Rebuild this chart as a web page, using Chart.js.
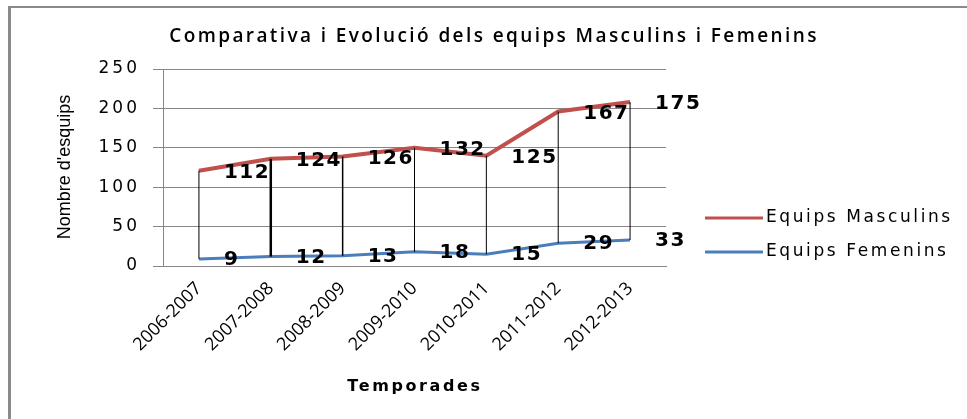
<!DOCTYPE html>
<html>
<head>
<meta charset="utf-8">
<script src="https://cdn.jsdelivr.net/npm/chart.js@4/dist/chart.umd.min.js"></script>
<style>
  html, body { margin: 0; padding: 0; background: #fff; }
  #wrap { position: relative; width: 967px; height: 419px; }
  #frame { position: absolute; left: 8px; top: 6px; right: 0; bottom: 0;
           border-left: 3px solid #8a8a8a; border-top: 2px solid #8a8a8a; pointer-events: none; }
</style>
</head>
<body>
<div id="wrap">
  <canvas id="chart" width="967" height="419"></canvas>
  <div id="frame"></div>
</div>
<script>
// Seasons and number of teams
var temporades = ['2006-2007', '2007-2008', '2008-2009', '2009-2010', '2010-2011', '2011-2012', '2012-2013'];
var masculins = [112, 124, 126, 132, 125, 167, 175];
var femenins = [9, 12, 13, 18, 15, 29, 33];
var yTicks = [0, 50, 100, 150, 200, 250];

var redLine = '#C0504D';
var blueLine = '#4A7EBB';
var dropWidths = [1, 2.5, 1.5, 1, 1, 1, 1];

// high-low lines, value labels, titles and legend
var extras = {
    id: 'extras',
    afterLayout: function(chart) {
        // wide spaced tick numbers on the value axis
        var sc = chart.scales.y;
        if (sc._spaced) return;
        var orig = sc.drawLabels;
        sc.drawLabels = function(area) {
            var c = this.ctx;
            c.save();
            c.letterSpacing = '3px';
            orig.call(this, area);
            c.restore();
        };
        sc._spaced = true;
    },
    afterDatasetsDraw: function(chart) {
        var ctx = chart.ctx;
        var fem = chart.getDatasetMeta(0).data;
        var mas = chart.getDatasetMeta(1).data;

        ctx.save();
        ctx.strokeStyle = '#000';
        for (var i = 0; i < mas.length; i++) {
            ctx.lineWidth = dropWidths[i];
            ctx.beginPath();
            ctx.moveTo(mas[i].x, mas[i].y);
            ctx.lineTo(fem[i].x, fem[i].y);
            ctx.stroke();
        }

        ctx.fillStyle = '#000';
        ctx.font = 'bold 20px "DejaVu Sans"';
        ctx.letterSpacing = '1.5px';
        ctx.textAlign = 'left';
        ctx.textBaseline = 'middle';
        for (var j = 0; j < mas.length; j++) {
            ctx.fillText(String(masculins[j]), mas[j].x + 25, mas[j].y + 2);
            ctx.fillText(String(femenins[j]), fem[j].x + 25, fem[j].y + 1);
        }

        // chart title
        ctx.font = '600 19px "Open Sans"';
        ctx.letterSpacing = '2.4px';
        ctx.textAlign = 'center';
        ctx.fillText('Comparativa i Evolució dels equips Masculins i Femenins', 494, 37);

        // x axis title
        ctx.font = 'bold 16px "DejaVu Sans"';
        ctx.letterSpacing = '2.6px';
        ctx.fillText('Temporades', 415, 387);

        // y axis title
        ctx.save();
        ctx.translate(65, 167);
        ctx.rotate(-Math.PI / 2);
        ctx.font = '18px "Liberation Sans Narrow", "Liberation Sans"';
        ctx.letterSpacing = '0px';
        ctx.fillText("Nombre d'esquips", 0, 0);
        ctx.restore();

        // legend
        var items = [['Equips Masculins', redLine, 218], ['Equips Femenins', blueLine, 252]];
        ctx.textAlign = 'left';
        ctx.font = '17px "DejaVu Sans"';
        ctx.letterSpacing = '2.6px';
        items.forEach(function(it) {
            ctx.strokeStyle = it[1];
            ctx.lineWidth = 3;
            ctx.beginPath();
            ctx.moveTo(705, it[2]);
            ctx.lineTo(763, it[2]);
            ctx.stroke();
            ctx.fillStyle = '#000';
            ctx.fillText(it[0], 766, it[2]);
        });
        ctx.restore();
    }
};

var ctxChart = document.getElementById('chart').getContext('2d');
new Chart(ctxChart, {
    type: 'line',
    data: {
        labels: temporades,
        datasets: [{
            label: 'Equips Femenins',
            data: femenins,
            borderColor: blueLine,
            borderWidth: 3,
            pointRadius: 0,
            tension: 0
        }, {
            label: 'Equips Masculins',
            data: masculins,
            borderColor: redLine,
            borderWidth: 4,
            pointRadius: 0,
            tension: 0
        }]
    },
    options: {
        responsive: false,
        animation: false,
        layout: {
            padding: { top: 69, right: 301, left: 0, bottom: 0 }
        },
        plugins: {
            legend: { display: false },
            tooltip: { enabled: false }
        },
        scales: {
            x: {
                offset: true,
                grid: { display: false },
                border: { display: true, color: '#868686' },
                ticks: {
                    autoSkip: false,
                    minRotation: 45,
                    maxRotation: 45,
                    color: '#000',
                    padding: 4,
                    font: { family: 'Open Sans', size: 18 }
                },
                afterFit: function(scale) { scale.height = 153; }
            },
            y: {
                stacked: true,
                min: yTicks[0],
                max: yTicks[yTicks.length - 1],
                afterBuildTicks: function(scale) {
                    scale.ticks = yTicks.map(function(v) { return { value: v }; });
                },
                grid: { color: '#868686', tickLength: 10 },
                border: { display: true, color: '#868686' },
                ticks: {
                    color: '#000',
                    padding: 13,
                    font: { family: 'DejaVu Sans', size: 17 }
                },
                afterFit: function(scale) { scale.width = 163; }
            }
        }
    },
    plugins: [extras]
});
</script>
</body>
</html>
